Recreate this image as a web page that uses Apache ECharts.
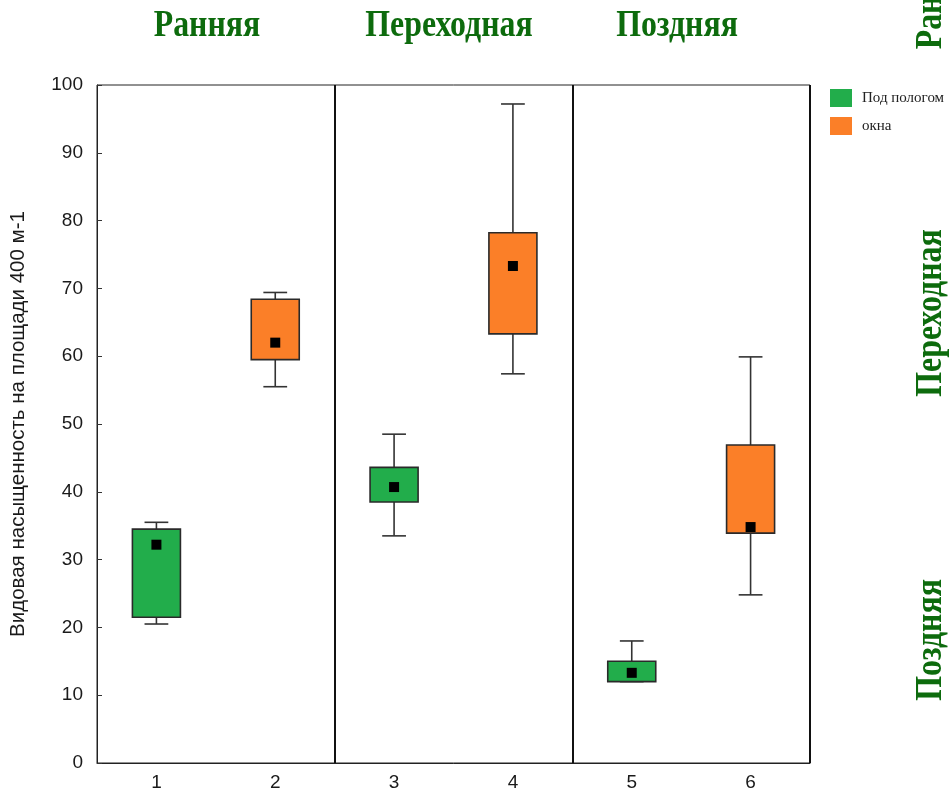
<!DOCTYPE html>
<html><head><meta charset="utf-8">
<script src="https://cdn.jsdelivr.net/npm/echarts@6/dist/echarts.min.js"></script>
<style>html,body{margin:0;padding:0;background:#fff}#c{width:951px;height:795px}</style>
</head><body><div id="c"></div>
<script>
const categories = ['1','2','3','4','5','6'];
const yTicks = [0,10,20,30,40,50,60,70,80,90,100];
const periods = ['Ранняя','Переходная','Поздняя'];
const yAxisTitle = 'Видовая насыщенность на площади 400 м-1';
const seriesNames = ['Под пологом','окна'];

// Под пологом (green) — categories 1,3,5
const canopyCat  = ['1','3','5'];
const canopyMin  = [20.5, 33.5, 12.0];
const canopyQ1   = [21.5, 38.5, 12.0];
const canopyQ3   = [34.5, 43.6, 15.0];
const canopyMax  = [35.5, 48.5, 18.0];
const canopyMean = [32.2, 40.7, 13.3];

// окна (orange) — categories 2,4,6
const gapCat  = ['2','4','6'];
const gapMin  = [55.5, 57.4, 24.8];
const gapQ1   = [59.5, 63.3, 33.9];
const gapQ3   = [68.4, 78.2, 46.9];
const gapMax  = [69.4, 97.2, 59.9];
const gapMean = [62.0, 73.3, 34.8];

function build(cat, mn, q1, q3, mx, mean){
  return cat.map((c,i)=>[c, mn[i], q1[i], q3[i], mx[i], mean[i]]);
}

function renderItem(params, api){
  const x = api.value(0);
  const pMin = api.coord([x, api.value(1)]);
  const pQ1 = api.coord([x, api.value(2)]);
  const pQ3 = api.coord([x, api.value(3)]);
  const pMax = api.coord([x, api.value(4)]);
  const pMean = api.coord([x, api.value(5)]);
  const band = api.size([1,0])[0];
  const bw = band*0.404, cw = band*0.2, ms = 10;
  const cx = pQ1[0];
  const line = {stroke:'#333', lineWidth:1.6};
  const color = api.visual('color');
  const children = [
    {type:'line', shape:{x1:cx,y1:pMax[1],x2:cx,y2:pQ3[1]}, style:line},
    {type:'line', shape:{x1:cx-cw/2,y1:pMax[1],x2:cx+cw/2,y2:pMax[1]}, style:line},
    {type:'line', shape:{x1:cx,y1:pQ1[1],x2:cx,y2:pMin[1]}, style:line},
    {type:'line', shape:{x1:cx-cw/2,y1:pMin[1],x2:cx+cw/2,y2:pMin[1]}, style:line},
    {type:'rect', shape:{x:cx-bw/2,y:pQ3[1],width:bw,height:pQ1[1]-pQ3[1]}, style:{fill:color, stroke:'#2a2a2a', lineWidth:1.6}},
    {type:'rect', shape:{x:pMean[0]-ms/2,y:pMean[1]-ms/2,width:ms,height:ms}, style:{fill:'#000'}}
  ];
  return {type:'group', children};
}

const green = '#22ad4b', orange = '#fb7f28', titleGreen = '#0d6b0d';
const chart = echarts.init(document.getElementById('c'), null, {renderer:'canvas'});

function ttl(text, x, y){
  return {type:'text', x:x, y:y, scaleX:0.86, silent:true,
    style:{text:text, fontFamily:'Liberation Serif', fontWeight:'bold', fontSize:37, fill:titleGreen, align:'center', verticalAlign:'middle'}};
}
function ttlR(text, x, y){
  return {type:'text', x:x, y:y, rotation:Math.PI/2, scaleX:0.86, silent:true,
    style:{text:text, fontFamily:'Liberation Serif', fontWeight:'bold', fontSize:37, fill:titleGreen, align:'center', verticalAlign:'middle'}};
}

chart.setOption({
  animation:false,
  backgroundColor:'#fff',
  grid:{left:97, right:141, top:85, bottom:32, show:true, borderColor:'#222', borderWidth:1},
  legend:{
    left:825, top:84, orient:'vertical', itemWidth:22, itemHeight:18, itemGap:10, icon:'rect',
    itemStyle:{borderWidth:0},
    textStyle:{fontFamily:'Liberation Serif', fontSize:15, color:'#222', padding:[0,0,0,5]},
    data:seriesNames
  },
  xAxis:{
    type:'category', data:categories, boundaryGap:true,
    axisLine:{lineStyle:{color:'#222', width:1}},
    axisTick:{inside:true, length:5, alignWithLabel:true, lineStyle:{color:'#333'}},
    axisLabel:{fontFamily:'Liberation Sans', fontSize:19, color:'#1a1a1a', margin:10},
    splitLine:{show:true, interval:function(i){return i===2||i===4;}, lineStyle:{color:'#111', width:2}}
  },
  yAxis:{
    type:'value', min:0, max:100, interval:10,
    name:yAxisTitle, nameLocation:'middle', nameGap:68,
    nameTextStyle:{fontFamily:'Liberation Sans', fontSize:20.5, color:'#1a1a1a'},
    axisLine:{show:true, lineStyle:{color:'#222', width:1}},
    axisTick:{show:true, inside:true, length:5, lineStyle:{color:'#333'}},
    axisLabel:{fontFamily:'Liberation Sans', fontSize:19, color:'#1a1a1a', margin:14},
    splitLine:{show:false}
  },
  series:[
    {name:seriesNames[0], type:'custom', renderItem, itemStyle:{color:green}, encode:{x:0,y:[1,2,3,4,5]},
     data:build(canopyCat, canopyMin, canopyQ1, canopyQ3, canopyMax, canopyMean)},
    {name:seriesNames[1], type:'custom', renderItem, itemStyle:{color:orange}, encode:{x:0,y:[1,2,3,4,5]},
     data:build(gapCat, gapMin, gapQ1, gapQ3, gapMax, gapMean)}
  ],
  graphic:[
    ttl(periods[0], 207, 26),
    ttl(periods[1], 449, 26),
    ttl(periods[2], 677, 26),
    ttlR(periods[0], 931, -4),
    ttlR(periods[1], 931, 313),
    ttlR(periods[2], 931, 640)
  ]
});
</script></body></html>
